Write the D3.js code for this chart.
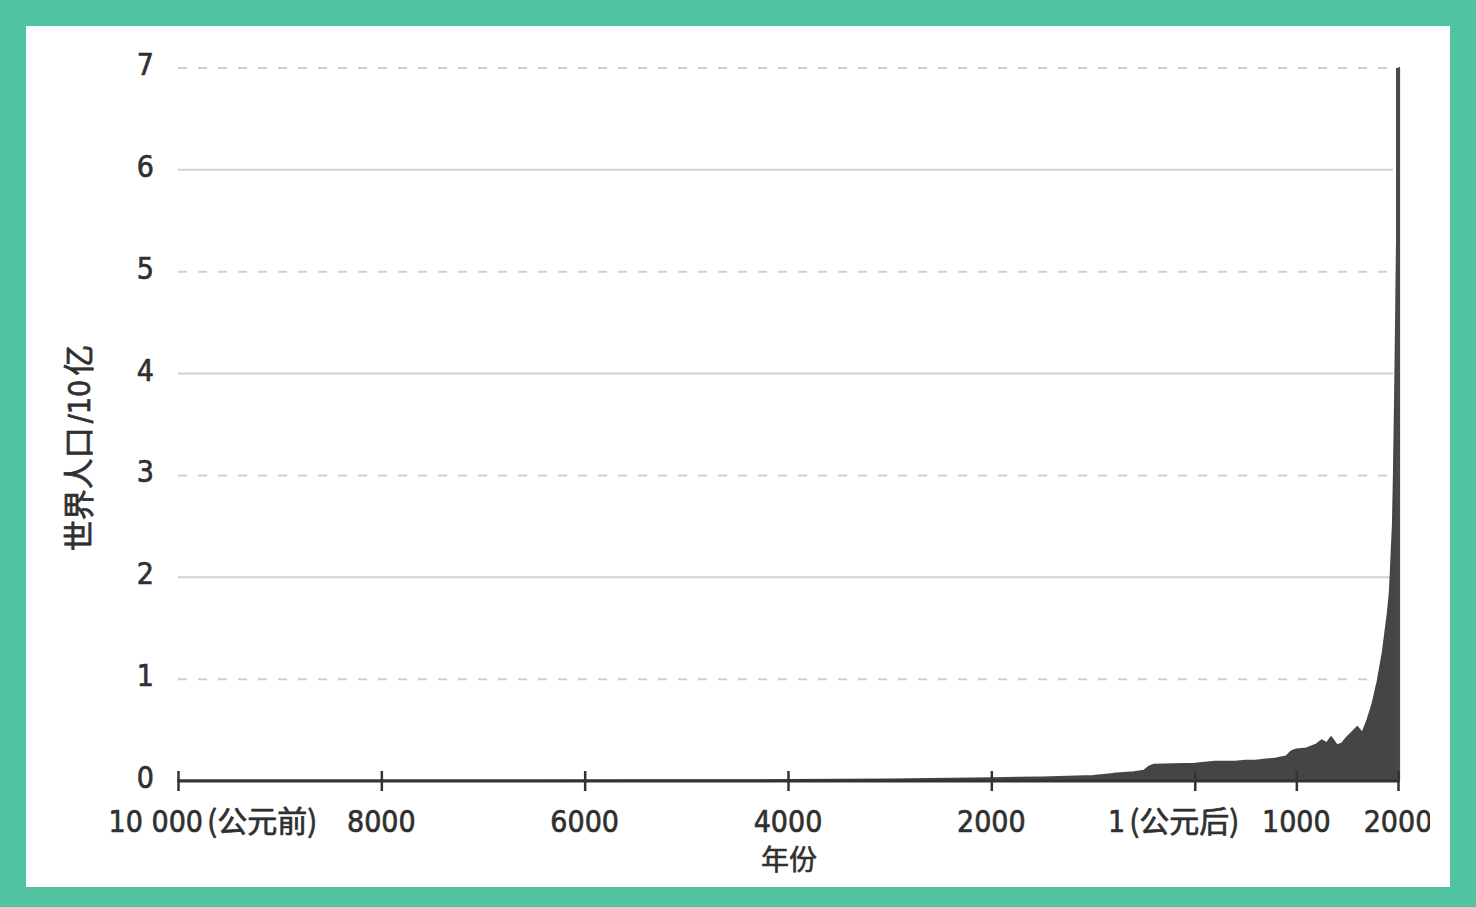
<!DOCTYPE html>
<html>
<head>
<meta charset="utf-8">
<script src="https://cdn.jsdelivr.net/npm/d3@7"></script>
<style>
  html, body { margin: 0; padding: 0; background: #52c3a1; }
  svg { display: block; }
</style>
</head>
<body>
<svg id="chart" width="1476" height="907"></svg>
<script>
// ---- data ----
const years = [-10000, -8000, -6500, -5000, -4000, -3000, -2000, -1500, -1000, -800, -600, -500, -450, -400, -200, 1, 200, 400, 500, 600, 700, 800, 900, 950, 1000, 1100, 1200, 1250, 1300, 1340, 1400, 1450, 1500, 1550, 1600, 1650, 1700, 1750, 1800, 1850, 1900, 1920, 1930, 1940, 1950, 1960, 1970, 1980, 1990, 2000, 2011];
const population = [0.004, 0.005, 0.005, 0.007, 0.009, 0.014, 0.027, 0.035, 0.05, 0.07, 0.085, 0.1, 0.14, 0.16, 0.165, 0.17, 0.19, 0.19, 0.2, 0.2, 0.21, 0.22, 0.24, 0.29, 0.31, 0.32, 0.36, 0.4, 0.37, 0.43, 0.35, 0.37, 0.43, 0.48, 0.53, 0.47, 0.6, 0.76, 0.98, 1.26, 1.65, 1.86, 2.07, 2.3, 2.52, 3.02, 3.68, 4.44, 5.31, 6.12, 7.0];
const xTickValues = [-10000, -8000, -6000, -4000, -2000, 1, 1000, 2000];
const xTickLabels = ["10 000(公元前)", "8000", "6000", "4000", "2000", "1(公元后)", "1000", "2000"];
const yTickValues = [0, 1, 2, 3, 4, 5, 6, 7];
const yTitle = "世界人口/10亿";
const xTitle = "年份";

// ---- layout ----
const svg = d3.select("#chart");
const W = 1476, H = 907;
const panel = {x: 26, y: 26, w: 1424, h: 861};
const xLabelOffsets = [35, 0, 0, 0, 0, -21, 0, 0];
const TEXT_COLOR = "#303030";
const LATIN = "'DejaVu Sans', sans-serif";
const CJK = "'Noto Sans CJK SC', sans-serif";
const CONDENSE = 0.9;
const RUN_GAP = 4;

svg.append("rect").attr("width", W).attr("height", H).attr("fill", "#52c3a1");
svg.append("rect").attr("x", panel.x).attr("y", panel.y).attr("width", panel.w).attr("height", panel.h).attr("fill", "#ffffff");

svg.append("defs").append("clipPath").attr("id", "clip")
  .append("rect").attr("x", panel.x).attr("y", panel.y).attr("width", 1430 - panel.x).attr("height", panel.h);

const g = svg.append("g").attr("clip-path", "url(#clip)");

const x = d3.scaleLinear().domain([-10000, 2000]).range([178, 1398]);
const y = d3.scaleLinear().domain([0, 7]).range([781, 68]);

// mixed Latin / CJK text: Latin runs in condensed DejaVu, CJK runs (with their brackets) in Noto Sans CJK
function richText(parent, str, cx, baseline, anchor, latinSize, cjkSize) {
  const grp = parent.append("g");
  const runs = str.match(/[()\u3400-\u9fff]+|[^()\u3400-\u9fff]+/g);
  let cursor = 0;
  runs.forEach((r, i) => {
    if (i > 0) cursor += RUN_GAP;
    const isCjk = /[()\u3400-\u9fff]/.test(r);
    const t = grp.append("text")
      .text(r)
      .attr("fill", TEXT_COLOR)
      .attr("stroke", TEXT_COLOR)
      .attr("stroke-width", 0.7)
      .style("font-family", isCjk ? CJK : LATIN)
      .style("font-size", (isCjk ? cjkSize : latinSize) + "px");
    const w = t.node().getComputedTextLength() * (isCjk ? 1 : CONDENSE);
    if (isCjk) t.attr("transform", `translate(${cursor},0)`);
    else t.attr("transform", `translate(${cursor},0) scale(${CONDENSE},1)`);
    cursor += w;
  });
  const start = anchor === "middle" ? cx - cursor / 2 : anchor === "end" ? cx - cursor : cx;
  grp.attr("transform", `translate(${start},${baseline})`);
  return grp;
}

// gridlines
g.append("g").selectAll("line")
  .data(yTickValues.filter(v => v > 0))
  .join("line")
  .attr("x1", 178).attr("x2", 1393)
  .attr("y1", d => y(d)).attr("y2", d => y(d))
  .attr("stroke", "#cfcfcf")
  .attr("stroke-width", 2)
  .attr("stroke-dasharray", d => d % 2 === 1 ? "9,11" : null);

// area
const data = years.map((yr, i) => ({yr, v: population[i]}));
const area = d3.area().x(d => x(d.yr)).y0(y(0)).y1(d => y(d.v)).curve(d3.curveLinear);
g.append("path").datum(data)
  .attr("d", area)
  .attr("fill", "#464446")
  .attr("stroke", "#464446")
  .attr("stroke-width", 2)
  .attr("stroke-linejoin", "round");
g.append("line")
  .attr("x1", x(2000)).attr("x2", x(2000))
  .attr("y1", y(0)).attr("y2", y(7))
  .attr("stroke", "#4a4a4a").attr("stroke-width", 4);

// x axis
const xAxis = d3.axisBottom(x).tickValues(xTickValues).tickSize(10).tickFormat("");
const xg = g.append("g").attr("transform", `translate(0,${y(0)})`).call(xAxis);
xg.select(".domain").attr("stroke", "#333").attr("stroke-width", 3)
  .attr("d", `M${x(-10000)},0H${x(2000)}`);
xg.selectAll(".tick line").attr("y1", -10).attr("y2", 10).attr("stroke", "#333").attr("stroke-width", 2.5);
xg.selectAll(".tick text").remove();
xTickValues.forEach((v, i) => {
  richText(g, xTickLabels[i], x(v) + xLabelOffsets[i], 832, "middle", 30, 30);
});

// y axis labels
const yAxis = d3.axisLeft(y).tickValues(yTickValues).tickSize(0).tickPadding(0).tickFormat(d3.format("d"));
const yg = g.append("g").attr("transform", "translate(154,0)").call(yAxis);
yg.select(".domain").remove();
yg.selectAll(".tick text")
  .attr("dy", 0).attr("y", 6.5).attr("x", 0)
  .attr("transform", `scale(${CONDENSE},1)`)
  .attr("fill", TEXT_COLOR)
  .attr("stroke", TEXT_COLOR)
  .attr("stroke-width", 0.7)
  .style("font-family", LATIN)
  .style("font-size", "30px");

// titles
const yTitleG = g.append("g").attr("transform", "translate(90,448) rotate(-90)");
richText(yTitleG, yTitle, 0, 0, "middle", 30, 31);
g.append("text")
  .attr("x", 789).attr("y", 870)
  .attr("text-anchor", "middle")
  .attr("fill", TEXT_COLOR)
  .attr("stroke", TEXT_COLOR)
  .attr("stroke-width", 0.6)
  .style("font-family", CJK)
  .style("font-size", "28px")
  .text(xTitle);
</script>
</body>
</html>
